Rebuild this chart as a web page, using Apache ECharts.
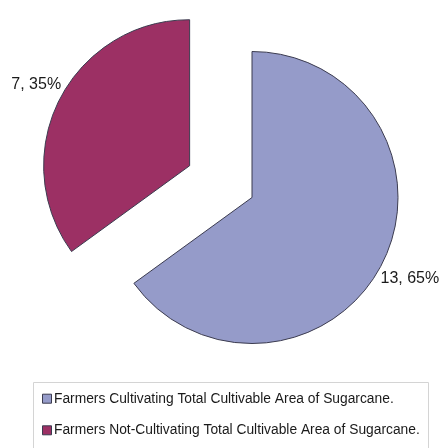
<!DOCTYPE html>
<html><head><meta charset="utf-8">
<script src="https://cdn.jsdelivr.net/npm/echarts@6/dist/echarts.min.js"></script>
<style>
html,body{margin:0;padding:0;background:#fff;overflow:hidden}
#chart{width:442px;height:448px}
</style></head><body>
<div id="chart"></div>
<script>
const categories = ['Farmers Cultivating Total Cultivable Area of Sugarcane.', 'Farmers Not-Cultivating Total Cultivable Area of Sugarcane.'];
const values = [13, 7];
const colors = ['#959bc9', '#9c3064'];
const explodedIndex = 1;

const FONT = '"Liberation Sans", Arial, sans-serif';
const data = categories.map((n, i) => ({
  name: n, value: values[i], selected: i === explodedIndex,
  itemStyle: { color: colors[i] }
}));

const legendGraphics = [{
  type: 'rect', silent: true,
  shape: { x: 33.5, y: 382.5, width: 395, height: 80 },
  style: { fill: '#fff', stroke: '#d4d4d4', lineWidth: 1 }
}];
categories.forEach((name, i) => {
  const cy = 398.7 + i * 31.6;
  legendGraphics.push({
    type: 'rect', silent: true,
    shape: { x: 42.5, y: cy - 4.5, width: 9, height: 9 },
    style: { fill: colors[i], stroke: '#3b3b4f', lineWidth: 1 }
  });
  legendGraphics.push({
    type: 'text', silent: true, x: 54, y: cy,
    style: { text: name, fontSize: 13.8, fontFamily: FONT, fill: '#1a1a1a', verticalAlign: 'middle', align: 'left' }
  });
});

const chart = echarts.init(document.getElementById('chart'), null, { renderer: 'canvas' });
chart.setOption({
  animation: false,
  graphic: { elements: legendGraphics },
  series: [{
    type: 'pie',
    center: [252, 197.5],
    radius: 146,
    startAngle: 90,
    clockwise: true,
    selectedMode: 'single',
    selectedOffset: 70,
    avoidLabelOverlap: false,
    silent: true,
    itemStyle: { borderColor: '#3b3b4f', borderWidth: 1 },
    label: {
      show: true, position: 'outside',
      formatter: p => p.value + ', ' + Math.round(p.percent) + '%',
      fontFamily: FONT, fontSize: 16, color: '#1a1a1a',
      distanceToLabelLine: -31
    },
    labelLine: { show: false, length: 33, length2: 0 },
    emphasis: { disabled: true },
    data: data
  }]
});
</script>
</body></html>
